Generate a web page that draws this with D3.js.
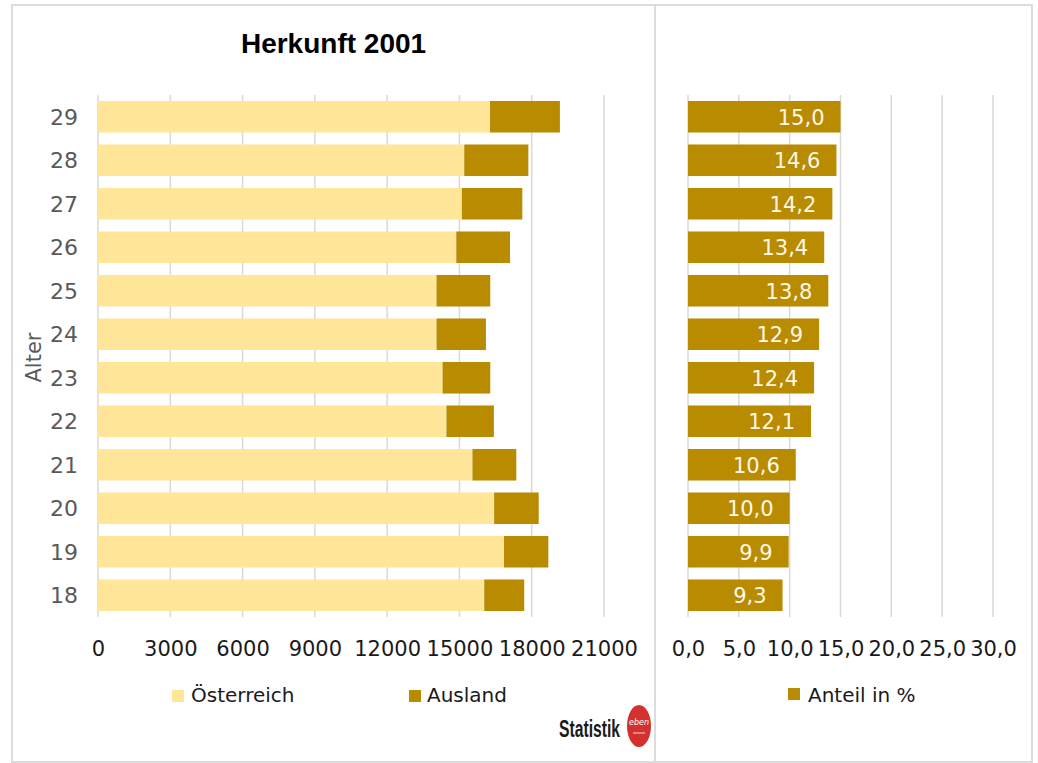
<!DOCTYPE html>
<html>
<head>
<meta charset="utf-8">
<script src="https://cdn.jsdelivr.net/npm/d3@7"></script>
<style>
  body { margin: 0; background: #ffffff; }
  svg { display: block; }
</style>
</head>
<body>
<svg id="chart" width="1038" height="763"></svg>
<script>
// ---- data ----
const ages = [29, 28, 27, 26, 25, 24, 23, 22, 21, 20, 19, 18];
const oesterreich = [16270, 15200, 15100, 14870, 14050, 14050, 14300, 14460, 15540, 16440, 16850, 16030];
const ausland = [2900, 2660, 2510, 2230, 2230, 2050, 1980, 1970, 1820, 1850, 1840, 1660];
const anteil = [15.0, 14.6, 14.2, 13.4, 13.8, 12.9, 12.4, 12.1, 10.6, 10.0, 9.9, 9.3];
const leftTicks = [0, 3000, 6000, 9000, 12000, 15000, 18000, 21000];
const rightTicks = [0, 5, 10, 15, 20, 25, 30];
const seriesNames = ["Österreich", "Ausland"];
const rightSeriesName = "Anteil in %";
const titleText = "Herkunft 2001";
const axisTitle = "Alter";

// ---- styles ----
const colLight = "#FFE699";
const colDark = "#B98B00";
const gridCol = "#d9d9d9";
const font = "'DejaVu Sans', sans-serif";

const svg = d3.select("#chart");

// panels
svg.append("rect").attr("x", 12).attr("y", 5).attr("width", 643).attr("height", 757)
  .attr("fill", "#fff").attr("stroke", "#dcdcdc").attr("stroke-width", 2);
svg.append("rect").attr("x", 655).attr("y", 5).attr("width", 377).attr("height", 757)
  .attr("fill", "#fff").attr("stroke", "#dcdcdc").attr("stroke-width", 2);

// scales
const y = d3.scaleBand().domain(ages).range([95, 617]).paddingInner(0.275).paddingOuter(0.1375);
const xL = d3.scaleLinear().domain([0, 21000]).range([98, 604]);
const xR = d3.scaleLinear().domain([0, 30]).range([688, 993]);

// gridlines
svg.append("g").selectAll("line").data(leftTicks).join("line")
  .attr("x1", d => xL(d)).attr("x2", d => xL(d)).attr("y1", 95).attr("y2", 617)
  .attr("stroke", gridCol).attr("stroke-width", 1.5);
svg.append("g").selectAll("line").data(rightTicks).join("line")
  .attr("x1", d => xR(d)).attr("x2", d => xR(d)).attr("y1", 95).attr("y2", 617)
  .attr("stroke", gridCol).attr("stroke-width", 1.5);

// title
svg.append("text").attr("x", 333.5).attr("y", 53).attr("text-anchor", "middle")
  .attr("font-family", "'Liberation Sans', Arial, sans-serif").attr("font-weight", "bold")
  .attr("font-size", 28).attr("fill", "#000").text(titleText);

// stacked bars
const rows = ages.map((a, i) => ({ age: a, oe: oesterreich[i], au: ausland[i], pct: anteil[i] }));
svg.append("g").selectAll("rect").data(rows).join("rect")
  .attr("x", xL(0)).attr("y", d => y(d.age))
  .attr("width", d => xL(d.oe) - xL(0)).attr("height", y.bandwidth())
  .attr("fill", colLight);
svg.append("g").selectAll("rect").data(rows).join("rect")
  .attr("x", d => xL(d.oe)).attr("y", d => y(d.age))
  .attr("width", d => xL(d.oe + d.au) - xL(d.oe)).attr("height", y.bandwidth())
  .attr("fill", colDark);

// right bars
svg.append("g").selectAll("rect").data(rows).join("rect")
  .attr("x", xR(0)).attr("y", d => y(d.age))
  .attr("width", d => xR(d.pct) - xR(0)).attr("height", y.bandwidth())
  .attr("fill", colDark);
svg.append("g").selectAll("text").data(rows).join("text")
  .attr("x", d => xR(d.pct) - 16).attr("y", d => y(d.age) + y.bandwidth() / 2)
  .attr("dy", "0.37em").attr("text-anchor", "end")
  .attr("font-family", font).attr("font-size", 21).attr("fill", "#FFF8E8")
  .text(d => d3.format(".1f")(d.pct).replace(".", ","));

// y axis labels
const yAxis = svg.append("g").attr("transform", "translate(88,0)")
  .call(d3.axisLeft(y).tickSize(0).tickPadding(10));
yAxis.select(".domain").remove();
yAxis.selectAll("text").attr("font-family", font).attr("font-size", 22).attr("fill", "#595959")
  .attr("dy", "0.36em");

// x axes
const xAxisL = svg.append("g").attr("transform", "translate(0,640)")
  .call(d3.axisBottom(xL).tickValues(leftTicks).tickSize(0).tickPadding(0).tickFormat(d3.format("d")));
xAxisL.select(".domain").remove();
xAxisL.selectAll("text").attr("font-family", font).attr("font-size", 21).attr("fill", "#1a1a1a")
  .attr("dy", "0.76em");

const xAxisR = svg.append("g").attr("transform", "translate(0,640)")
  .call(d3.axisBottom(xR).tickValues(rightTicks).tickSize(0).tickPadding(0)
    .tickFormat(d => d3.format(".1f")(d).replace(".", ",")));
xAxisR.select(".domain").remove();
xAxisR.selectAll("text").attr("font-family", font).attr("font-size", 21).attr("fill", "#1a1a1a")
  .attr("dy", "0.76em");

// axis title
svg.append("text").attr("transform", "translate(41,357.5) rotate(-90)")
  .attr("text-anchor", "middle").attr("font-family", font).attr("font-size", 21)
  .attr("fill", "#595959").text(axisTitle);

// legends
const legendItems = [
  { name: seriesNames[0], color: colLight, sx: 172, tx: 191, sy: 690 },
  { name: seriesNames[1], color: colDark, sx: 409, tx: 427, sy: 690 },
  { name: rightSeriesName, color: colDark, sx: 788, tx: 808, sy: 688 }
];
const lg = svg.append("g").selectAll("g").data(legendItems).join("g");
lg.append("rect").attr("x", d => d.sx).attr("y", d => d.sy).attr("width", 12).attr("height", 12)
  .attr("fill", d => d.color);
lg.append("text").attr("x", d => d.tx).attr("y", 702).attr("font-family", font).attr("font-size", 20)
  .attr("fill", "#1a1a1a").text(d => d.name);

// logo
svg.append("text").attr("transform", "translate(559,737) scale(0.655,1)")
  .attr("font-family", "'Liberation Sans', Arial, sans-serif")
  .attr("font-weight", "bold").attr("font-size", 24)
  .attr("fill", "#1a1a1a").text("Statistik");
svg.append("ellipse").attr("cx", 639).attr("cy", 726).attr("rx", 12).attr("ry", 21).attr("fill", "#D3302F");
svg.append("text").attr("x", 639).attr("y", 725).attr("text-anchor", "middle")
  .attr("font-family", font).attr("font-style", "italic").attr("font-size", 8).attr("fill", "#fff").text("eben");
svg.append("line").attr("x1", 633).attr("x2", 645).attr("y1", 733).attr("y2", 733)
  .attr("stroke", "#fff").attr("stroke-width", 1).attr("opacity", 0.8);
</script>
</body>
</html>
